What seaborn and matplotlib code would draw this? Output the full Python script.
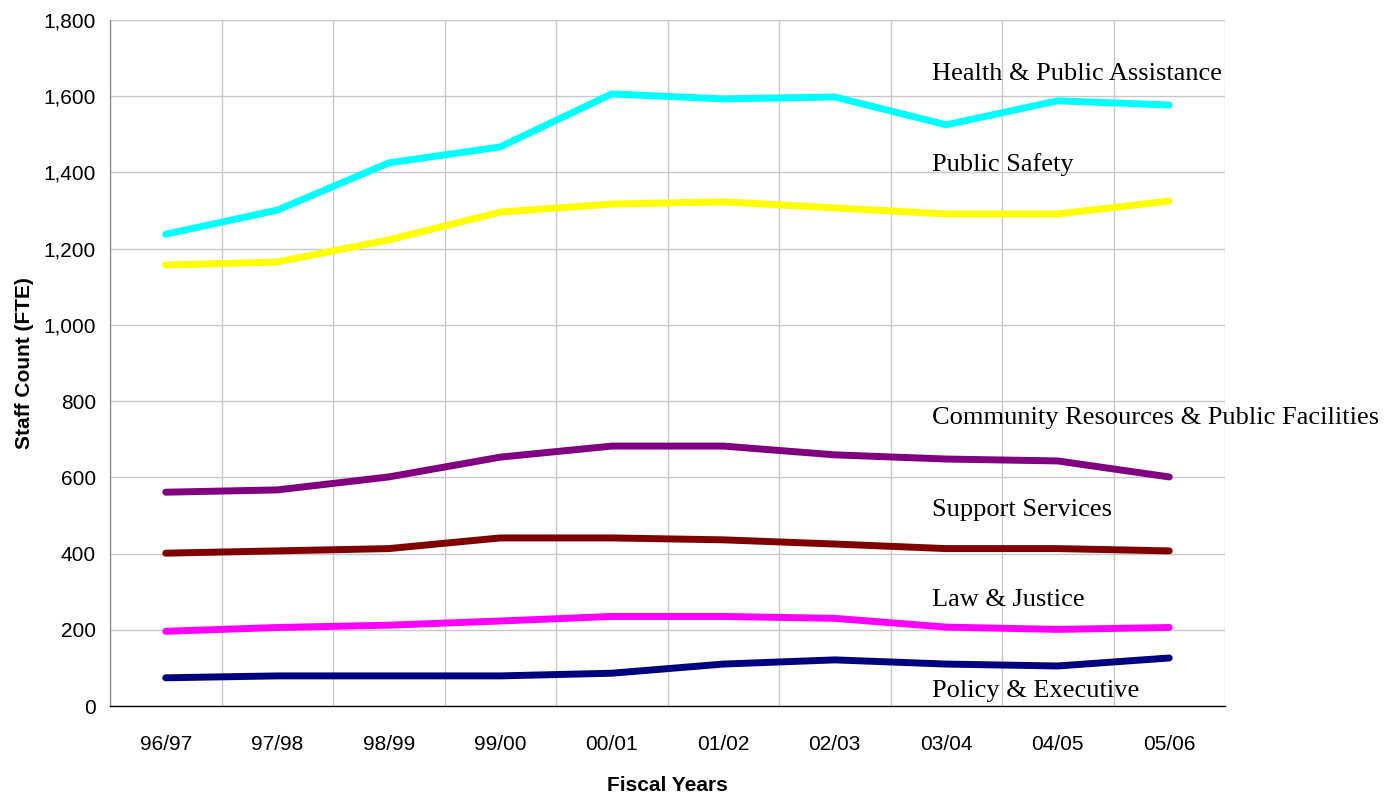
import matplotlib
matplotlib.use("Agg")
import matplotlib.pyplot as plt
import matplotlib.ticker as mticker
import numpy as np
import pandas as pd
import seaborn as sns

years = ["96/97", "97/98", "98/99", "99/00", "00/01", "01/02", "02/03", "03/04", "04/05", "05/06"]

health = [1238, 1301, 1425, 1467, 1606, 1593, 1598, 1525, 1588, 1577]
public_safety = [1157, 1165, 1223, 1296, 1317, 1323, 1307, 1291, 1291, 1325]
community = [561, 567, 601, 653, 682, 682, 659, 648, 643, 601]
support = [401, 407, 413, 441, 441, 436, 425, 413, 413, 407]
law = [196, 206, 212, 223, 235, 235, 230, 207, 201, 206]
policy = [74, 79, 79, 79, 86, 110, 121, 110, 105, 126]

series_names = [
    "Health & Public Assistance",
    "Public Safety",
    "Community Resources & Public Facilities",
    "Support Services",
    "Law & Justice",
    "Policy & Executive",
]
series_values = [health, public_safety, community, support, law, policy]
series_colors = ["#00FFFF", "#FFFF00", "#800080", "#800000", "#FF00FF", "#000080"]

# label anchors (data units) for the in-plot series names
label_y = [1666, 1427, 761, 522, 286, 47]

rows = []
for name, vals in zip(series_names, series_values):
    for i, v in enumerate(vals):
        rows.append({"idx": i, "year": years[i], "value": v, "series": name})
df = pd.DataFrame(rows)

sns.set_style("white")
plt.rcParams["font.family"] = ["Liberation Sans", "DejaVu Sans"]
plt.rcParams["text.color"] = "#000000"
plt.rcParams["axes.labelcolor"] = "#000000"

fig = plt.figure(figsize=(14, 7.98), dpi=100)
ax = fig.add_axes([110 / 1400, 1 - 706 / 798, (1225 - 110) / 1400, (706 - 20) / 798])

sns.lineplot(
    data=df, x="idx", y="value", hue="series",
    hue_order=series_names, palette=dict(zip(series_names, series_colors)),
    linewidth=5, ax=ax, legend=False, solid_capstyle="round", solid_joinstyle="miter",
)

ax.set_xlim(-0.5, len(years) - 0.5)
ax.set_ylim(0, 1800)

# category labels at centres, tick marks / vertical grid at boundaries
ax.set_xticks(np.arange(len(years)))
ax.set_xticklabels(years, fontsize=15)
ax.set_xticks(np.arange(-0.5, len(years)), minor=True)
ax.tick_params(axis="x", which="major", length=0, pad=21, labelcolor="#000000")
ax.tick_params(axis="x", which="minor", length=6, width=1, color="#000000", direction="out")

ax.yaxis.set_major_locator(mticker.MultipleLocator(200))
ax.yaxis.set_major_formatter(mticker.FuncFormatter(lambda v, p: f"{int(v):,}"))
ax.tick_params(axis="y", which="major", length=5, width=1, color="#808080",
               labelsize=15, pad=5, labelcolor="#000000")

ax.grid(False)
ax.grid(True, axis="y", which="major", color="#C8C8C8", linewidth=1)
ax.grid(True, axis="x", which="minor", color="#C8C8C8", linewidth=1)
ax.set_axisbelow(True)

for side in ["top", "right"]:
    ax.spines[side].set_visible(False)
ax.spines["left"].set_color("#909090")
ax.spines["left"].set_linewidth(1)
ax.spines["bottom"].set_color("#000000")
ax.spines["bottom"].set_linewidth(1)

ax.set_xlabel("Fiscal Years", fontsize=15, fontweight="bold", labelpad=16)
ax.set_ylabel("Staff Count (FTE)", fontsize=15, fontweight="bold", labelpad=7)

label_x = 6.876
for name, ly in zip(series_names, label_y):
    ax.text(label_x, ly, name, fontsize=19, family=["Liberation Serif", "DejaVu Serif"],
            va="center_baseline", ha="left", color="#000000", clip_on=False)

fig.savefig("out.png", dpi=100, facecolor="white")
